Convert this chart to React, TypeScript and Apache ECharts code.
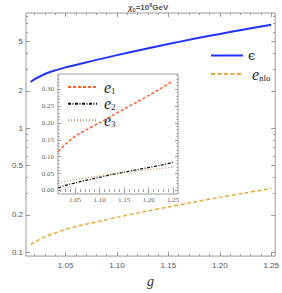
import React, { useEffect, useRef } from 'react';
import * as echarts from 'echarts';

// ---- data ----
const gValues = [1.016, 1.02, 1.03, 1.04, 1.05, 1.0625, 1.075, 1.0875, 1.1, 1.125, 1.15, 1.175, 1.2, 1.225, 1.25];
const epsilonValues = [2.36, 2.49, 2.74, 2.93, 3.1, 3.285, 3.48, 3.68, 3.89, 4.32, 4.78, 5.27, 5.77, 6.3, 6.84];
const nloValues = [0.115, 0.121, 0.133, 0.143, 0.153, 0.163, 0.172, 0.181, 0.191, 0.211, 0.232, 0.254, 0.277, 0.301, 0.326];
const e1Values = [0.115, 0.122, 0.136, 0.149, 0.16, 0.171, 0.181, 0.191, 0.2, 0.221, 0.241, 0.261, 0.281, 0.302, 0.324];
const e2Values = [0.008, 0.01, 0.015, 0.019, 0.022, 0.027, 0.031, 0.035, 0.039, 0.047, 0.054, 0.061, 0.068, 0.075, 0.083];
const e3Values = [0.023, 0.024, 0.027, 0.03, 0.032, 0.035, 0.038, 0.041, 0.043, 0.048, 0.053, 0.057, 0.061, 0.065, 0.069];

// ---- ticks ----
const xMajorTicks = [1.05, 1.1, 1.15, 1.2, 1.25];
const xMinorTicks = [1.02, 1.03, 1.04, 1.06, 1.07, 1.08, 1.09, 1.11, 1.12, 1.13, 1.14, 1.16, 1.17, 1.18, 1.19, 1.21, 1.22, 1.23, 1.24];
const mainYMajorTicks = [0.1, 0.2, 0.5, 1, 2, 5];
const mainYMinorTicks = [0.3, 0.4, 0.6, 0.7, 0.8, 0.9, 3, 4, 6, 7, 8];
const insetYMajorTicks = [0, 0.05, 0.1, 0.15, 0.2, 0.25, 0.3];
const insetYMinorTicks = [0.01, 0.02, 0.03, 0.04, 0.06, 0.07, 0.08, 0.09, 0.11, 0.12, 0.13, 0.14, 0.16, 0.17, 0.18, 0.19, 0.21, 0.22, 0.23, 0.24, 0.26, 0.27, 0.28, 0.29, 0.31, 0.32, 0.33, 0.34];

const MAIN_X = [1.01154, 1.25385];
const MAIN_Y = [0.09306, 8.506];
const INSET_X = [1.0153, 1.2602];
const INSET_Y = [-0.0104, 0.3447];

const TICK_COLOR = '#9a9a9a';
const SANS = 'Liberation Sans, Arial, sans-serif';
const SERIF = 'Liberation Serif, Times New Roman, serif';

function makeAxis(
  grid: number,
  type: string,
  range: number[],
  position: string,
  ticks: number[],
  len: number,
  label: any
) {
  const ax: any = {
    type,
    gridIndex: grid,
    min: range[0],
    max: range[1],
    position,
    axisLine: { show: false },
    splitLine: { show: false },
    axisTick: { show: true, inside: true, length: len, customValues: ticks, lineStyle: { color: TICK_COLOR, width: 1 } },
    axisLabel: label ? { show: true, customValues: ticks, ...label } : { show: false },
  };
  if (type === 'log') ax.logBase = 10;
  return ax;
}

export default function App() {
  const ref = useRef<HTMLDivElement>(null);

  useEffect(() => {
    if (!ref.current) return;
    const chart = echarts.init(ref.current, undefined, { renderer: 'svg' });

    const mainLabelX = { formatter: (v: number) => v.toFixed(2), fontSize: 8, color: '#555', fontFamily: SANS, margin: 5 };
    const mainLabelY = { formatter: (v: number) => String(+v.toPrecision(3)), fontSize: 8, color: '#555', fontFamily: SANS, margin: 3 };
    const insetLabelX = { formatter: (v: number) => v.toFixed(2), fontSize: 7, color: '#666', fontFamily: SERIF, margin: 2 };
    const insetLabelY = { formatter: (v: number) => v.toFixed(2), fontSize: 7, color: '#666', fontFamily: SERIF, margin: 4 };

    const xAxis: any[] = [
      {
        ...makeAxis(0, 'value', MAIN_X, 'bottom', xMajorTicks, 4, mainLabelX),
        name: 'g',
        nameLocation: 'middle',
        nameGap: 13,
        nameTextStyle: { fontFamily: SERIF, fontStyle: 'italic', fontSize: 14, color: '#333' },
      },
      makeAxis(0, 'value', MAIN_X, 'bottom', xMinorTicks, 2, null),
      makeAxis(0, 'value', MAIN_X, 'top', xMajorTicks, 4, null),
      makeAxis(0, 'value', MAIN_X, 'top', xMinorTicks, 2, null),
      makeAxis(1, 'value', INSET_X, 'bottom', xMajorTicks, 3, insetLabelX),
      makeAxis(1, 'value', INSET_X, 'bottom', xMinorTicks, 1.5, null),
      makeAxis(1, 'value', INSET_X, 'top', xMajorTicks, 3, null),
      makeAxis(1, 'value', INSET_X, 'top', xMinorTicks, 1.5, null),
    ];
    const yAxis: any[] = [
      makeAxis(0, 'log', MAIN_Y, 'left', mainYMajorTicks, 4, mainLabelY),
      makeAxis(0, 'log', MAIN_Y, 'left', mainYMinorTicks, 2, null),
      makeAxis(0, 'log', MAIN_Y, 'right', mainYMajorTicks, 4, null),
      makeAxis(0, 'log', MAIN_Y, 'right', mainYMinorTicks, 2, null),
      makeAxis(1, 'value', INSET_Y, 'left', insetYMajorTicks, 3, insetLabelY),
      makeAxis(1, 'value', INSET_Y, 'left', insetYMinorTicks, 1.5, null),
      makeAxis(1, 'value', INSET_Y, 'right', insetYMajorTicks, 3, null),
      makeAxis(1, 'value', INSET_Y, 'right', insetYMinorTicks, 1.5, null),
    ];

    const pairs = (ys: number[]) => gValues.map((g, i) => [g, ys[i]]);

    const lineSeries = (name: string, ys: number[], xi: number, yi: number, color: string, width: number, type: any) => ({
      name,
      type: 'line',
      xAxisIndex: xi,
      yAxisIndex: yi,
      data: pairs(ys),
      symbol: 'none',
      showSymbol: false,
      smooth: 0.3,
      color,
      lineStyle: { color, width, type },
    });

    const legendRich = {
      eps: { fontFamily: 'DejaVu Serif, serif', fontSize: 13, color: '#222' },
      enlo: { fontFamily: SERIF, fontStyle: 'italic', fontSize: 16, color: '#222', padding: [0, 0, 0, 6] },
      ein: { fontFamily: SERIF, fontStyle: 'italic', fontSize: 16, color: '#222', padding: [0, 0, 0, 2] },
      s: { fontFamily: SERIF, fontSize: 9, color: '#222', padding: [7, 0, 0, 0] },
    };
    const legendFormatter = (name: string) => {
      if (name === 'ϵ') return '{eps|ϵ}';
      if (name === 'e_nlo') return '{enlo|e}{s|nlo}';
      if (name === 'e_1') return '{ein|e}{s|1}';
      if (name === 'e_2') return '{ein|e}{s|2}';
      if (name === 'e_3') return '{ein|e}{s|3}';
      return name;
    };
    const legend = (name: string, left: number, top: number, w: number) => ({
      data: [name],
      left,
      top,
      z: 20,
      orient: 'vertical',
      itemWidth: w,
      itemHeight: 10,
      padding: 0,
      selectedMode: false,
      formatter: legendFormatter,
      itemStyle: { color: 'rgba(0,0,0,0)', borderColor: 'rgba(0,0,0,0)', borderWidth: 0, opacity: 0 },
      textStyle: { rich: legendRich },
    });

    chart.setOption({
      animation: false,
      backgroundColor: '#fff',
      title: {
        text: '{chi|χ}{sub|0}{t|=10}{sup|6}{t|GeV}',
        left: 128,
        top: 2,
        padding: 0,
        textStyle: {
          rich: {
            chi: { fontFamily: SANS, fontStyle: 'italic', fontSize: 8, color: '#555' },
            t: { fontFamily: SANS, fontSize: 8, color: '#555' },
            sub: { fontFamily: SANS, fontSize: 5.5, color: '#555', padding: [4, 0, 0, 0] },
            sup: { fontFamily: SANS, fontSize: 5.5, color: '#555', padding: [0, 0, 5, 0] },
          },
        },
      },
      grid: [
        { left: 26, top: 13, width: 252, height: 251, show: true, borderColor: TICK_COLOR, borderWidth: 1, backgroundColor: '#fff', containLabel: false },
        { left: 58, top: 74, width: 120, height: 120, show: true, borderColor: TICK_COLOR, borderWidth: 1, backgroundColor: '#fff', containLabel: false },
      ],
      xAxis,
      yAxis,
      legend: [
        legend('ϵ', 210, 49, 32),
        legend('e_nlo', 210, 66, 30),
        legend('e_1', 67, 79, 29),
        legend('e_2', 67, 95.7, 29),
        legend('e_3', 67, 112.3, 29),
      ],
      series: [
        lineSeries('ϵ', epsilonValues, 0, 0, '#2233ff', 2, 'solid'),
        lineSeries('e_nlo', nloValues, 0, 0, '#eba83a', 1.5, [4, 2.5]),
        lineSeries('e_1', e1Values, 4, 4, '#ff5b2a', 1.5, [3, 2]),
        lineSeries('e_2', e2Values, 4, 4, '#111111', 1.3, [3, 1.5, 1, 1.5]),
        lineSeries('e_3', e3Values, 4, 4, '#c4946c', 1.1, [1, 2]),
      ],
    });

    return () => chart.dispose();
  }, []);

  return <div ref={ref} style={{ position: 'absolute', left: 0, top: 0, width: 282, height: 293 }} />;
}
